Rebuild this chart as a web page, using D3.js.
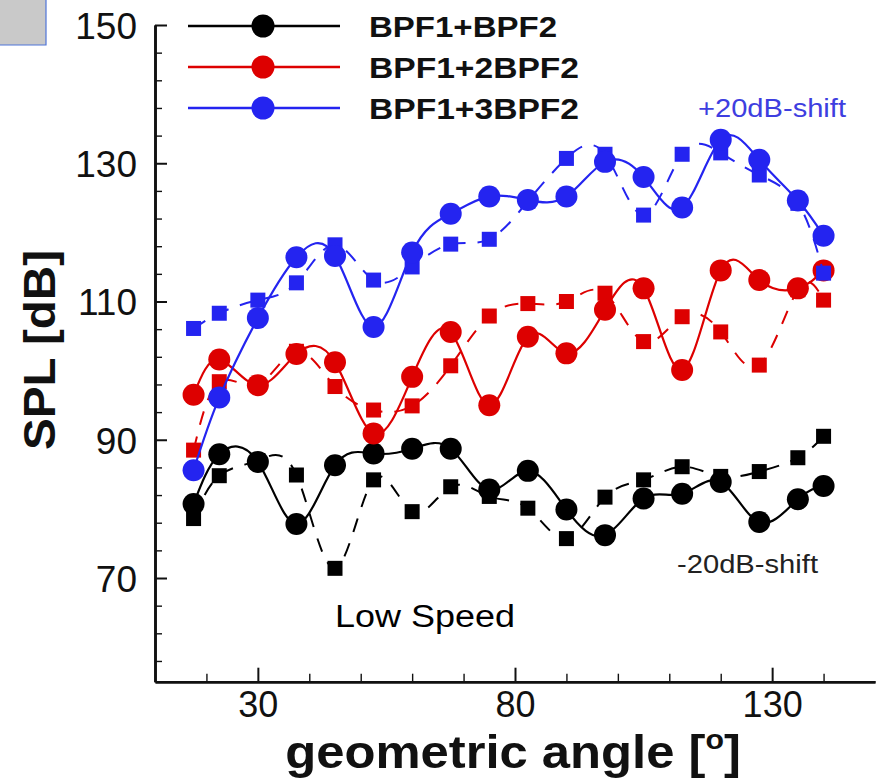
<!DOCTYPE html>
<html><head><meta charset="utf-8">
<script src="https://cdn.jsdelivr.net/npm/d3@7"></script>
<style>
body{margin:0;background:#fff}
svg{display:block}
text{font-family:"Liberation Sans",Arial,Helvetica,sans-serif}
</style>
</head><body>
<svg id="c" width="884" height="779"></svg>
<script>
// ---- data ----
const angles = [17.5, 22.5, 30, 37.5, 45, 52.5, 60, 67.5, 75, 82.5, 90, 97.5, 105, 112.5, 120, 127.5, 135, 140];
const blackCircle = [80.7, 87.9, 86.8, 77.8, 86.3, 88.0, 88.7, 88.7, 82.8, 85.5, 79.9, 76.2, 81.5, 82.2, 83.9, 78.1, 81.4, 83.3];
const blackSquare = [78.6, 84.8, 87.0, 84.9, 71.4, 84.2, 79.6, 83.2, 81.8, 80.1, 75.7, 81.7, 84.2, 86.1, 84.7, 85.4, 87.4, 90.5];
const redCircle   = [96.5, 101.6, 97.9, 102.4, 101.2, 90.9, 99.1, 105.6, 95.0, 104.9, 102.5, 108.8, 111.9, 100.1, 114.5, 113.1, 111.9, 114.5];
const redSquare   = [88.5, 98.4, 98.0, 102.8, 97.7, 94.3, 94.9, 100.7, 107.9, 109.7, 110.0, 111.2, 104.2, 107.8, 105.6, 100.8, 111.7, 110.2];
const blueCircle  = [85.6, 96.1, 107.6, 116.4, 116.6, 106.3, 117.1, 122.7, 125.2, 124.7, 125.2, 130.2, 128.0, 123.6, 133.4, 130.5, 124.6, 119.5];
const blueSquare  = [106.1, 108.3, 110.2, 112.7, 118.2, 113.1, 115.0, 118.3, 119.0, 124.5, 130.7, 131.3, 122.5, 131.3, 131.5, 128.3, 124.2, 114.1];
const seriesNames = ["BPF1+BPF2", "BPF1+2BPF2", "BPF1+3BPF2"];
const seriesColors = ["#000000", "#dd0000", "#2424f0"];
const yMajorTicks = [70, 90, 110, 130, 150];
const yMinorTicks = [58, 62, 66, 74, 78, 82, 86, 94, 98, 102, 106, 114, 118, 122, 126, 134, 138, 142, 146];
const xMajorTicks = [30, 80, 130];
const xMinorTicks = [20, 40, 50, 60, 70, 90, 100, 110, 120, 140];

// ---- chart ----
const svg = d3.select('#c');
const x = d3.scaleLinear().domain([10, 150]).range([155, 875]);
const y = d3.scaleLinear().domain([55, 150]).range([681.7, 25]);
const axisY0 = 681.7, axisX0 = 155;

// corner box
svg.append('rect').attr('x', 0).attr('y', 0).attr('width', 46).attr('height', 45).attr('fill', '#c9c9c9');
svg.append('path').attr('d', 'M46,0V45H0').attr('fill', 'none').attr('stroke', '#4f74d8').attr('stroke-width', 1.2);

// axes
const gy = svg.append('g').attr('transform', `translate(${axisX0},0)`)
  .call(d3.axisLeft(y).tickValues(yMajorTicks).tickSizeInner(-12).tickSizeOuter(0).tickPadding(18).tickFormat(d3.format('d')));
const gyMinor = svg.append('g').attr('transform', `translate(${axisX0},0)`)
  .call(d3.axisLeft(y).tickValues(yMinorTicks).tickSizeInner(-7).tickSizeOuter(0).tickFormat(''));
const gx = svg.append('g').attr('transform', `translate(0,${axisY0})`)
  .call(d3.axisBottom(x).tickValues(xMajorTicks).tickSizeInner(-14).tickSizeOuter(0).tickPadding(10).tickFormat(d3.format('d')));
const gxMinor = svg.append('g').attr('transform', `translate(0,${axisY0})`)
  .call(d3.axisBottom(x).tickValues(xMinorTicks).tickSizeInner(-8).tickSizeOuter(0).tickFormat(''));
[gy, gyMinor, gx, gxMinor].forEach(g => {
  g.selectAll('.domain').attr('stroke', '#111').attr('stroke-width', 2.6);
  g.selectAll('.tick line').attr('stroke', '#111').attr('stroke-width', 2);
  g.selectAll('.tick text').attr('font-family', '"Liberation Sans",Arial,sans-serif').attr('font-size', 37).attr('fill', '#111');
});
gx.selectAll('.tick text').attr('font-size', 36);
gyMinor.selectAll('.tick line').attr('stroke-width', 1.4);
gxMinor.selectAll('.tick line').attr('stroke-width', 1.4);
gy.selectAll('.tick text').attr('dy', '0.36em');

// axis titles
const xt = svg.append('text').attr('transform', 'translate(513,768) scale(1.08,1)').attr('text-anchor', 'middle')
  .attr('font-size', 47).attr('font-weight', 'bold').attr('fill', '#111');
xt.append('tspan').text('geometric angle [');
xt.append('tspan').attr('font-size', 28).attr('dy', -19).text('o');
xt.append('tspan').attr('dy', 19).text(']');
svg.append('text').attr('transform', 'translate(55,350) rotate(-90)').attr('text-anchor', 'middle')
  .attr('font-size', 45).attr('font-weight', 'bold').attr('fill', '#111')
  .attr('textLength', 200).attr('lengthAdjust', 'spacingAndGlyphs').text('SPL [dB]');

// series
const series = [
  {c: blackCircle, s: blackSquare, color: seriesColors[0]},
  {c: redCircle, s: redSquare, color: seriesColors[1]},
  {c: blueCircle, s: blueSquare, color: seriesColors[2]}
];
const line = d3.line().x(d => x(d[0])).y(d => y(d[1])).curve(d3.curveNatural);
const plot = svg.append('g');
series.forEach(sr => {
  const cs = angles.map((a, i) => [a, sr.c[i]]);
  const ss = angles.map((a, i) => [a, sr.s[i]]);
  plot.append('path').attr('d', line(ss)).attr('fill', 'none').attr('stroke', sr.color)
    .attr('stroke-width', 2).attr('stroke-dasharray', '14,12');
  plot.append('path').attr('d', line(cs)).attr('fill', 'none').attr('stroke', sr.color).attr('stroke-width', 2.2);
  plot.selectAll(null).data(ss).enter().append('rect')
    .attr('x', d => x(d[0]) - 7.5).attr('y', d => y(d[1]) - 7.5).attr('width', 15).attr('height', 15)
    .attr('fill', sr.color);
  plot.selectAll(null).data(cs).enter().append('circle')
    .attr('cx', d => x(d[0])).attr('cy', d => y(d[1])).attr('r', 11).attr('fill', sr.color);
});

// legend
const legY = [26, 67, 108];
seriesNames.forEach((name, i) => {
  svg.append('line').attr('x1', 188).attr('x2', 340).attr('y1', legY[i]).attr('y2', legY[i])
    .attr('stroke', seriesColors[i]).attr('stroke-width', 2.4);
  svg.append('circle').attr('cx', 263).attr('cy', legY[i]).attr('r', 11.5).attr('fill', seriesColors[i]);
  svg.append('text').attr('x', 369).attr('y', legY[i] + 10.5).attr('font-size', 29).attr('font-weight', 'bold')
    .attr('fill', '#111').attr('textLength', name.length === 9 ? 188 : 210).attr('lengthAdjust', 'spacingAndGlyphs').text(name);
});

// annotations
svg.append('text').attr('x', 698).attr('y', 117).attr('font-size', 25).attr('fill', '#3e3ee0')
  .attr('textLength', 148).attr('lengthAdjust', 'spacingAndGlyphs').text('+20dB-shift');
svg.append('text').attr('x', 677).attr('y', 573).attr('font-size', 25).attr('fill', '#222')
  .attr('textLength', 141).attr('lengthAdjust', 'spacingAndGlyphs').text('-20dB-shift');
svg.append('text').attr('x', 335).attr('y', 627).attr('font-size', 31).attr('fill', '#000')
  .attr('textLength', 180).attr('lengthAdjust', 'spacingAndGlyphs').text('Low Speed');
</script>
</body></html>
